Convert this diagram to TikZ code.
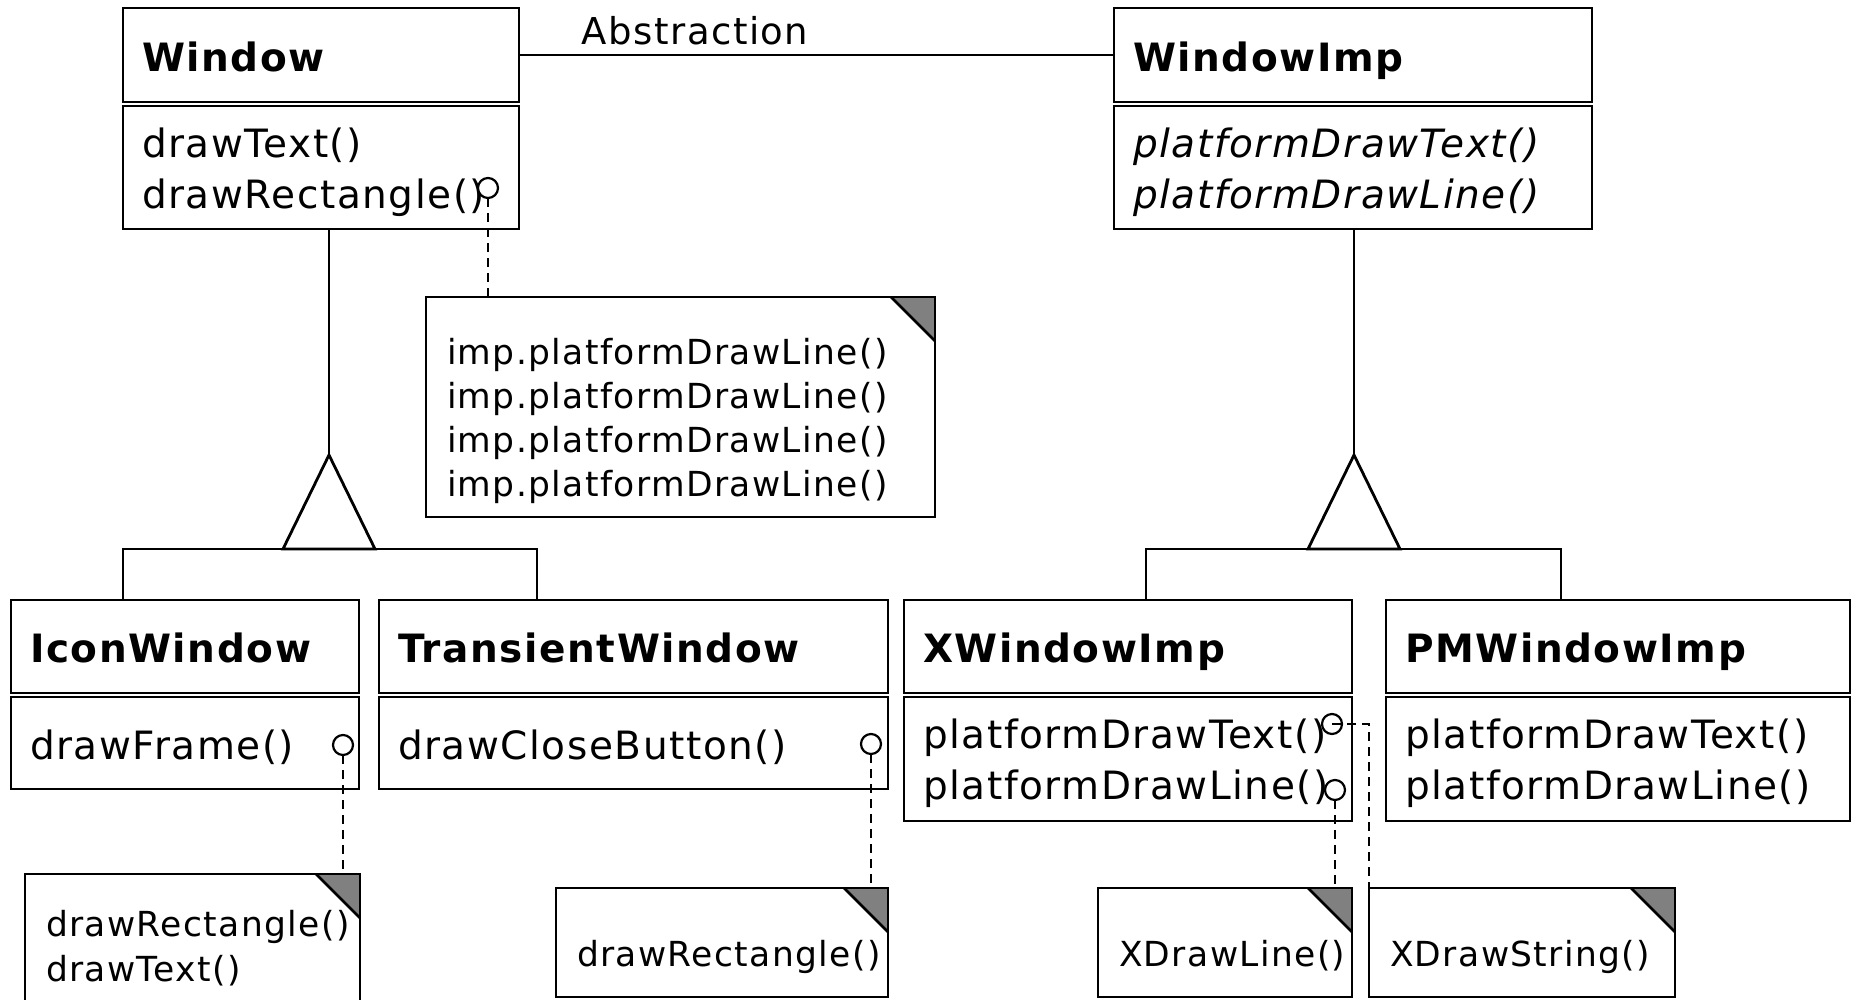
\documentclass[tikz,border=0pt]{standalone}
\usepackage{fontspec}
\setmainfont{DejaVu Sans}[LetterSpace=4]
\usetikzlibrary{positioning,shapes.geometric}
\definecolor{foldgray}{HTML}{808080}

\newcommand{\clsfont}{\fontsize{39}{51}\selectfont}
\newcommand{\memofont}{\fontsize{34.5}{44.3}\selectfont}

\begin{document}
\begin{tikzpicture}[
  x=1pt, y=-1pt,
  every node/.style={outer sep=0pt},
  cls/.style={draw,line width=2.8pt,fill=white,align=left,inner xsep=19pt,inner ysep=0pt,font=\clsfont},
  clsname/.style={cls,anchor=north west,font=\clsfont\bfseries,text height=32pt,text depth=0pt},
  clsops/.style={cls,text height=30pt,text depth=51pt},
  clsop/.style={cls,text height=32pt,text depth=0pt},
  memo/.style={draw,line width=2.8pt,fill=white,align=left,anchor=north west,inner xsep=21pt,inner ysep=0pt,font=\memofont,
    path picture={
      \fill[foldgray] (path picture bounding box.north east) -- ++(-44pt,0pt) -- ++(44pt,-44pt) -- cycle;
      \draw[line width=2.8pt] ([xshift=-44pt]path picture bounding box.north east) -- ([yshift=-44pt]path picture bounding box.north east);
    }},
  hook/.style={circle,draw,fill=white,line width=2.2pt,minimum size=20pt,inner sep=0pt},
  link/.style={line width=2.2pt,dash pattern=on 9pt off 6pt},
  inherit/.style={isosceles triangle,isosceles triangle stretches=true,shape border rotate=90,draw,fill=white,
    line width=2.8pt,minimum width=92pt,minimum height=94pt,inner sep=0pt,anchor=apex},
  assoc/.style={line width=2.8pt}
]
\clip (0,0) rectangle (1851,999);

% abstraction side
\node[clsname,text width=358pt,minimum height=94pt] (win) at (123,8) {Window};
\node[clsops,text width=358pt,minimum height=123pt,below=4pt of win] (winops) {drawText()\\drawRectangle()};
\node[clsname,text width=440pt,minimum height=94pt] (wimp) at (1114,8) {WindowImp};
\node[clsops,text width=440pt,minimum height=123pt,below=4pt of wimp,font=\clsfont\itshape] (wimpops) {platformDrawText()\\platformDrawLine()};

% refined abstractions
\node[clsname,text width=310pt,minimum height=93pt] (icon) at (11,600) {IconWindow};
\node[clsop,text width=310pt,minimum height=92pt,below=4pt of icon] (iconops) {drawFrame()};
\node[clsname,text width=471pt,minimum height=93pt] (trans) at (379,600) {TransientWindow};
\node[clsop,text width=471pt,minimum height=92pt,below=4pt of trans] (transops) {drawCloseButton()};

% concrete implementors
\node[clsname,text width=410pt,minimum height=93pt] (xwin) at (904,600) {XWindowImp};
\node[clsops,text width=410pt,minimum height=124pt,below=4pt of xwin] (xwinops) {platformDrawText()\\platformDrawLine()};
\node[clsname,text width=426pt,minimum height=93pt] (pmwin) at (1386,600) {PMWindowImp};
\node[clsops,text width=426pt,minimum height=124pt,below=4pt of pmwin] (pmwinops) {platformDrawText()\\platformDrawLine()};

% bridge
\draw[assoc] (win.east) -- node[pos=0.296,above=10pt,inner sep=0pt,font=\fontsize{37}{40}\selectfont] (abstr) {Abstraction} (wimp.west);

% generalisations
\node[inherit] (gen1) at (329,455) {};
\node[inherit] (gen2) at (1354,455) {};
\draw[assoc] (gen1.apex |- winops.south) -- (gen1.apex);
\draw[assoc] ([xshift=-62pt]icon.north) |- (gen1.lower side) -| ([xshift=-96.5pt]trans.north);
\draw[assoc] (gen2.apex |- wimpops.south) -- (gen2.apex);
\draw[assoc] ([xshift=18pt]xwin.north) |- (gen2.lower side) -| ([xshift=-57pt]pmwin.north);

% notes
\node[memo,text width=467pt,minimum height=220pt,text height=47pt,text depth=133pt] (memo1) at (426,297)
  {imp.platformDrawLine()\\imp.platformDrawLine()\\imp.platformDrawLine()\\imp.platformDrawLine()};
\node[memo,text width=293pt,minimum height=130pt,text height=40pt,text depth=44.3pt] (memo2) at (25,874) {drawRectangle()\\drawText()};
\node[memo,text width=290pt,minimum height=109pt,text height=48pt,text depth=0pt] (memo3) at (556,888) {drawRectangle()};
\node[memo,text width=212pt,minimum height=109pt,text height=48pt,text depth=0pt] (memo4) at (1098,888) {XDrawLine()};
\node[memo,text width=264pt,minimum height=109pt,text height=48pt,text depth=0pt] (memo5) at (1369,888) {XDrawString()};

% code hooks
\node[hook] (pin1) at (488,188) {};
\node[hook] (pin2) at (343,745) {};
\node[hook] (pin3) at (871,744) {};
\node[hook] (pin4) at (1332,724) {};
\node[hook] (pin5) at (1335,790) {};

\draw[link] (pin1.south) -- (pin1.south |- memo1.north);
\draw[link] (pin2.south) -- (pin2.south |- memo2.north);
\draw[link] (pin3.south) -- (pin3.south |- memo3.north);
\draw[link] (pin5.south) -- (pin5.south |- memo4.north);
\draw[link] (pin4.center) -| (memo5.north west);
\end{tikzpicture}
\end{document}
